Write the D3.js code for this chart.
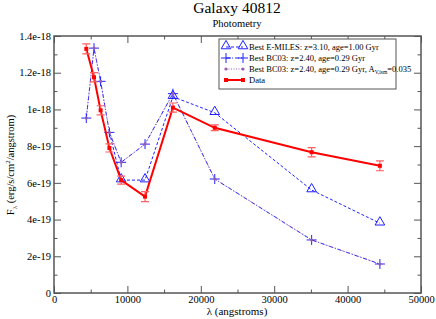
<!DOCTYPE html>
<html lang="en">
<head>
<meta charset="UTF-8">
<title>Galaxy 40812</title>
<script src="https://cdn.jsdelivr.net/npm/d3@7"></script>
<style>
  body { margin: 0; background: #fff; }
  svg text { font-family: "Liberation Serif", "Times New Roman", Times, "DejaVu Serif", serif !important; }
</style>
</head>
<body>
<div id="chart"></div>
<script>
// wavelengths of the photometric bands (angstrom)
const wave = [4400, 5450, 6350, 7550, 9150, 12400, 16200, 21900, 35100, 44400]
// observed flux and errors (units of 1e-18)
const dataFlux = [1.33, 1.175, 0.995, 0.79, 0.615, 0.525, 1.01, 0.90, 0.767, 0.693]
const dataErr = [0.027, 0.025, 0.025, 0.022, 0.022, 0.027, 0.025, 0.016, 0.025, 0.027]
// best BC03 model (same for both BC03 entries)
const bc03Flux = [0.953, 1.334, 1.153, 0.875, 0.712, 0.811, 1.086, 0.621, 0.289, 0.158]
// best E-MILES model, starts at the 4th band
const emilesWave = [7550, 9150, 12400, 16200, 21900, 35100, 44400]
const emilesFlux = [0.875, 0.615, 0.615, 1.069, 0.982, 0.561, 0.380]

const xTicks = [0, 10000, 20000, 30000, 40000, 50000]
const yTicks = [0, 2e-19, 4e-19, 6e-19, 8e-19, 1e-18, 1.2e-18, 1.4e-18]
const yTickLabels = ["0", "2e-19", "4e-19", "6e-19", "8e-19", "1e-18", "1.2e-18", "1.4e-18"]

const width = 436, height = 319
const m = {left: 54, right: 15, top: 36, bottom: 26}
const x = d3.scaleLinear().domain([0, 50000]).range([m.left, width - m.right])
const y = d3.scaleLinear().domain([0, 1.4e-18]).range([height - m.bottom, m.top])

const svg = d3.select("#chart").append("svg")
    .attr("width", width).attr("height", height)

const frame = "#555"
const pw = x.range()[1] - x.range()[0], ph = y.range()[0] - y.range()[1]

// axes with inward ticks on all four sides
const minorX = d3.range(0, 50001, 5000).filter(v => v % 10000)
const minorY = d3.range(1, 14, 2).map(v => v * 1e-19)
svg.append("g").attr("transform", `translate(0,${y(0)})`)
    .call(d3.axisBottom(x).tickValues(xTicks).tickSize(-7).tickPadding(3).tickFormat(d3.format("d")))
svg.append("g").attr("transform", `translate(0,${y(1.4e-18)})`)
    .call(d3.axisTop(x).tickValues(xTicks).tickSize(-7).tickFormat(""))
svg.append("g").attr("transform", `translate(0,${y(0)})`)
    .call(d3.axisBottom(x).tickValues(minorX).tickSize(-3.5).tickFormat(""))
svg.append("g").attr("transform", `translate(0,${y(1.4e-18)})`)
    .call(d3.axisTop(x).tickValues(minorX).tickSize(-3.5).tickFormat(""))
const gy = svg.append("g").attr("transform", `translate(${x(0)},0)`)
    .call(d3.axisLeft(y).tickValues(yTicks).tickSize(-7).tickPadding(3).tickFormat((d, i) => yTickLabels[i]))
svg.append("g").attr("transform", `translate(${x(50000)},0)`)
    .call(d3.axisRight(y).tickValues(yTicks).tickSize(-7).tickFormat(""))
svg.append("g").attr("transform", `translate(${x(0)},0)`)
    .call(d3.axisLeft(y).tickValues(minorY).tickSize(-3.5).tickFormat(""))
svg.append("g").attr("transform", `translate(${x(50000)},0)`)
    .call(d3.axisRight(y).tickValues(minorY).tickSize(-3.5).tickFormat(""))
svg.selectAll(".domain").remove()
svg.selectAll("g").attr("font-family", null)
svg.selectAll(".tick line").attr("stroke", frame).attr("stroke-width", 1)
svg.selectAll(".tick text").attr("fill", "#000").style("font-size", "10.5px")
gy.selectAll(".tick text").attr("dy", "0.3em")
svg.append("rect").attr("x", x(0)).attr("y", y(1.4e-18)).attr("width", pw).attr("height", ph)
    .attr("fill", "none").attr("stroke", frame).attr("stroke-width", 1.5)

const line = d3.line().x(d => x(d[0])).y(d => y(d[1] * 1e-18))
const purple = "#9a5aae"

const bcPts = wave.map((w, i) => [w, bc03Flux[i]])
const emPts = emilesWave.map((w, i) => [w, emilesFlux[i]])
const dataPts = wave.map((w, i) => [w, dataFlux[i], dataErr[i]])

svg.append("path").datum(emPts).attr("d", line).attr("fill", "none")
    .attr("stroke", "#2020ff").attr("stroke-width", 1).attr("stroke-dasharray", "3,2")
svg.append("path").datum(bcPts).attr("d", line).attr("fill", "none")
    .attr("stroke", "#2020ff").attr("stroke-width", 1).attr("stroke-dasharray", "4,2,1,2")
svg.append("path").datum(bcPts).attr("d", line).attr("fill", "none")
    .attr("stroke", purple).attr("stroke-width", 1).attr("stroke-dasharray", "1,1.5").attr("opacity", 0.8)

// triangles (first E-MILES point sits under the BC03 cross)
const tri = d3.symbol().type(d3.symbolTriangle).size(40)
svg.append("g").selectAll("path").data(emPts.slice(1)).join("path")
    .attr("d", tri).attr("transform", d => `translate(${x(d[0])},${y(d[1] * 1e-18) - 1})`)
    .attr("fill", "none").attr("stroke", "#2020ff").attr("stroke-width", 1)

// crosses
const cross = svg.append("g").selectAll("g").data(bcPts).join("g")
    .attr("transform", d => `translate(${x(d[0])},${y(d[1] * 1e-18)})`)
cross.append("path").attr("d", "M-5,0H5M0,-5V5").attr("stroke", "#2020ff").attr("stroke-width", 1)
cross.append("circle").attr("r", 1.5).attr("fill", purple)

// data with error bars
svg.append("path").datum(dataPts).attr("d", line).attr("fill", "none")
    .attr("stroke", "#ff0000").attr("stroke-width", 2)
const eb = svg.append("g").selectAll("g").data(dataPts).join("g")
eb.append("path").attr("d", d => {
    const cx = x(d[0]), y0 = y((d[1] - d[2]) * 1e-18), y1 = y((d[1] + d[2]) * 1e-18)
    return `M${cx},${y0}V${y1}M${cx - 4},${y0}H${cx + 4}M${cx - 4},${y1}H${cx + 4}`
}).attr("stroke", "#ff6060").attr("stroke-width", 1.2).attr("fill", "none")
eb.append("rect").attr("x", d => x(d[0]) - 2).attr("y", d => y(d[1] * 1e-18) - 2)
    .attr("width", 4).attr("height", 4).attr("fill", "#ff0000")

// titles
svg.append("text").attr("x", 237).attr("y", 13).attr("text-anchor", "middle")
    .style("font-size", "15.5px").text("Galaxy 40812")
svg.append("text").attr("x", 237).attr("y", 27).attr("text-anchor", "middle")
    .style("font-size", "10.5px").text("Photometry")
svg.append("text").attr("x", 237).attr("y", 315).attr("text-anchor", "middle")
    .style("font-size", "11px").text("λ (angstroms)")
const yl = svg.append("text").attr("transform", "translate(14,165) rotate(-90)")
    .attr("text-anchor", "middle").style("font-size", "10.5px")
yl.append("tspan").text("F")
yl.append("tspan").attr("dy", 3).style("font-size", "7px").text("λ")
yl.append("tspan").attr("dy", -3).text(" (erg/s/cm")
yl.append("tspan").attr("dy", -4).style("font-size", "7px").text("2")
yl.append("tspan").attr("dy", 4).text("/angstrom)")

// legend
const lg = svg.append("g")
lg.append("rect").attr("x", 219).attr("y", 39).attr("width", 177).attr("height", 50)
    .attr("fill", "#fff").attr("stroke", frame).attr("stroke-width", 1)
const rows = [47, 58, 69, 80]
const lx0 = 226, lx1 = 243, tx = 249
lg.append("line").attr("x1", lx0).attr("x2", lx1).attr("y1", rows[0]).attr("y2", rows[0])
    .attr("stroke", "#2020ff").attr("stroke-dasharray", "3,2")
;[lx0, lx1].forEach(px => lg.append("path").attr("d", tri)
    .attr("transform", `translate(${px},${rows[0] - 1})`).attr("fill", "none").attr("stroke", "#2020ff"))
lg.append("line").attr("x1", lx0).attr("x2", lx1).attr("y1", rows[1]).attr("y2", rows[1])
    .attr("stroke", "#2020ff").attr("stroke-dasharray", "4,2,1,2")
;[lx0, lx1].forEach(px => lg.append("path").attr("d", `M${px - 5},${rows[1]}H${px + 5}M${px},${rows[1] - 5}V${rows[1] + 5}`)
    .attr("stroke", "#2020ff"))
lg.append("line").attr("x1", lx0).attr("x2", lx1).attr("y1", rows[2]).attr("y2", rows[2])
    .attr("stroke", purple).attr("stroke-dasharray", "1,1.5")
;[lx0, lx1].forEach(px => lg.append("circle").attr("cx", px).attr("cy", rows[2]).attr("r", 1.6).attr("fill", purple))
lg.append("line").attr("x1", lx0).attr("x2", lx1).attr("y1", rows[3]).attr("y2", rows[3])
    .attr("stroke", "#ff0000").attr("stroke-width", 2)
;[lx0, lx1].forEach(px => lg.append("rect").attr("x", px - 2).attr("y", rows[3] - 2)
    .attr("width", 4).attr("height", 4).attr("fill", "#ff0000"))
const labels = ["Best E-MILES: z=3.10, age=1.00 Gyr", "Best BC03: z=2.40, age=0.29 Gyr",
    "Best BC03: z=2.40, age=0.29 Gyr, A", "Data"]
labels.forEach((t, i) => {
    const tt = lg.append("text").attr("x", tx).attr("y", rows[i] + 3).style("font-size", "8.5px").text(t)
    if (i === 2) {
        tt.append("tspan").attr("dy", 2).style("font-size", "5.5px").text("V,ism")
        tt.append("tspan").attr("dy", -2).text("=0.035")
    }
})
</script>
</body>
</html>
